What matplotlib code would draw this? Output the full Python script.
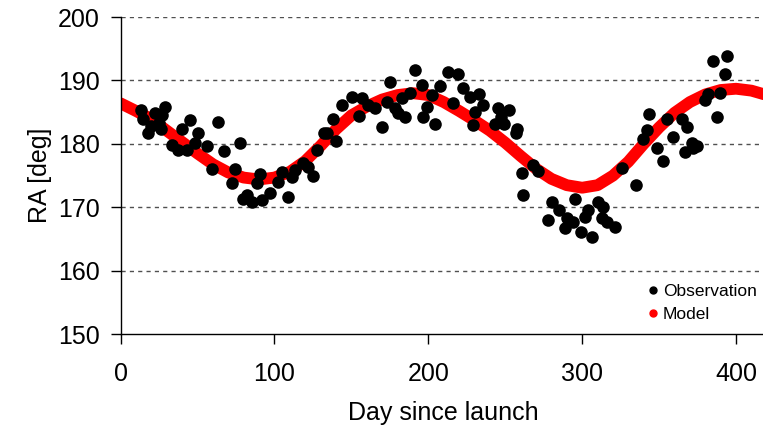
import matplotlib
matplotlib.use('Agg')
from matplotlib import pyplot as plt
from matplotlib.lines import Line2D

plt.rcParams['font.family'] = ['Liberation Sans', 'DejaVu Sans']

# observacoes (dia, RA)
obs_dia = [13.5, 14.5, 18.0, 20.0, 22.5, 25.0, 27.0, 29.0, 26.0,
           33.3, 37.6, 39.8, 43.0, 45.2, 48.4, 50.6, 56.0, 59.3, 63.6,
           67.2, 72.3, 74.4, 77.6, 79.8, 82.0, 85.2, 88.5, 90.6, 91.7,
           97.1, 102.5, 104.7, 109.0, 111.2, 113.4, 118.4, 122.0, 124.9,
           127.9, 132.2, 134.0, 137.9, 140.0, 143.7, 150.2, 155.2, 156.7,
           161.0, 165.4, 169.7, 173.0, 175.1, 178.4, 180.5, 182.7, 184.9,
           188.1, 191.4, 195.7, 196.8, 199.0, 202.2, 204.4, 207.5, 213.0,
           216.2, 219.5, 222.7, 227.1, 229.2, 230.3, 233.1, 235.7, 243.3,
           245.5, 247.0, 249.2, 252.4, 257.0, 257.8, 260.7, 261.7, 267.8,
           271.5, 278.0, 280.2, 285.1, 288.8, 289.9, 294.2, 295.3, 299.2,
           301.8, 304.0, 306.2, 310.5, 312.7, 313.7, 315.9, 321.3, 325.7,
           334.9, 339.3, 341.9, 343.6, 348.4, 352.3, 354.9, 359.2, 364.6,
           366.8, 367.9, 371.1, 372.2, 374.4, 379.8, 381.9, 385.1, 387.4,
           389.5, 392.8, 394.3]
obs_ra = [185.4, 183.9, 181.7, 182.8, 184.8, 183.3, 184.5, 185.9, 182.3,
          179.8, 179.1, 182.3, 179.1, 183.8, 180.1, 181.7, 179.7, 176.1, 183.5,
          178.9, 173.9, 176.1, 180.2, 171.3, 171.9, 170.9, 173.9, 175.3, 171.1,
          172.3, 174.0, 175.6, 171.7, 174.8, 175.9, 177.0, 176.4, 174.9,
          179.0, 181.8, 181.8, 183.9, 180.5, 186.1, 187.4, 184.4, 187.2,
          186.2, 185.7, 182.7, 186.6, 189.8, 185.6, 184.8, 187.2, 184.3,
          188.1, 191.6, 189.3, 184.3, 185.9, 187.7, 183.2, 189.2, 191.4,
          186.5, 191.1, 188.8, 187.4, 183.0, 185.1, 187.9, 186.1, 183.2,
          185.7, 184.3, 183.1, 185.3, 181.7, 182.4, 175.4, 171.9, 176.7,
          175.8, 168.0, 170.9, 169.6, 166.7, 168.3, 167.7, 171.4, 166.1,
          168.5, 169.6, 165.3, 170.9, 168.3, 170.1, 167.7, 166.9, 176.2,
          173.5, 180.7, 182.2, 184.7, 179.3, 177.3, 184.0, 181.1, 184.0,
          178.8, 182.7, 180.1, 179.3, 179.7, 186.9, 187.9, 193.1, 184.2,
          188.1, 191.1, 193.9]

modelo_dia = [0, 10, 20, 30, 40, 50, 60, 70, 80, 90, 100, 110, 120, 130,
              140, 150, 160, 170, 180, 190, 200, 210, 220, 230, 240, 250,
              260, 270, 280, 290, 300, 310, 320, 330, 340, 350, 360, 370,
              380, 390, 400, 410, 420]
modelo_ra = [186.4, 185.2, 183.9, 182.1, 180.3, 178.5, 176.8, 175.5, 174.7,
             174.4, 174.7, 175.6, 177.3, 179.7, 182.3, 184.5, 185.9, 187.0,
             187.7, 188.0, 187.7, 186.6, 185.2, 183.7, 182.1, 180.2, 178.1,
             176.1, 174.5, 173.5, 173.1, 173.5, 175.0, 177.2, 180.0, 182.6,
             184.9, 186.6, 187.8, 188.5, 188.7, 188.4, 187.7]

yticks = [150, 160, 170, 180, 190, 200]
xticks = [0, 100, 200, 300, 400]

fig = plt.figure(figsize=(7.63, 4.26), dpi=100)
ax = fig.add_axes([0.158, 0.2153, 0.847, 0.7447])

ax.plot(modelo_dia, modelo_ra, color='#ff0000', linewidth=8.5,
        solid_capstyle='round', solid_joinstyle='round', zorder=2)
ax.scatter(obs_dia, obs_ra, s=82, color='black', linewidths=0, zorder=3)

ax.set_xlim(0, 420)
ax.set_ylim(150, 200)
ax.set_xticks(xticks)
ax.set_yticks(yticks)

# grelha tracejada
for y in yticks[1:]:
    ax.axhline(y, color='#505050', linewidth=1, linestyle=(0, (3, 3)), zorder=1)

ax.spines['top'].set_visible(False)
ax.spines['right'].set_visible(False)
ax.spines['left'].set_linewidth(1)
ax.spines['bottom'].set_linewidth(1)
ax.tick_params(axis='both', direction='out', length=7, width=1,
               labelsize=18, colors='black')
ax.tick_params(axis='y', pad=8)
ax.tick_params(axis='x', pad=13)

ax.set_xlabel('Day since launch', fontsize=18, labelpad=11)
ax.set_ylabel('RA [deg]', fontsize=18, labelpad=4)

handles = [Line2D([], [], marker='o', linestyle='', color='black', markersize=5),
           Line2D([], [], marker='o', linestyle='', color='#ff0000', markersize=5)]
fig.legend(handles, ['Observation', 'Model'], loc='lower right',
           bbox_to_anchor=(757 / 763, 1 - 322 / 426), frameon=False,
           fontsize=12.5, handlelength=0.6, handletextpad=0.3,
           labelspacing=0.45, borderpad=0, borderaxespad=0)

fig.savefig('out.png', dpi=100)
